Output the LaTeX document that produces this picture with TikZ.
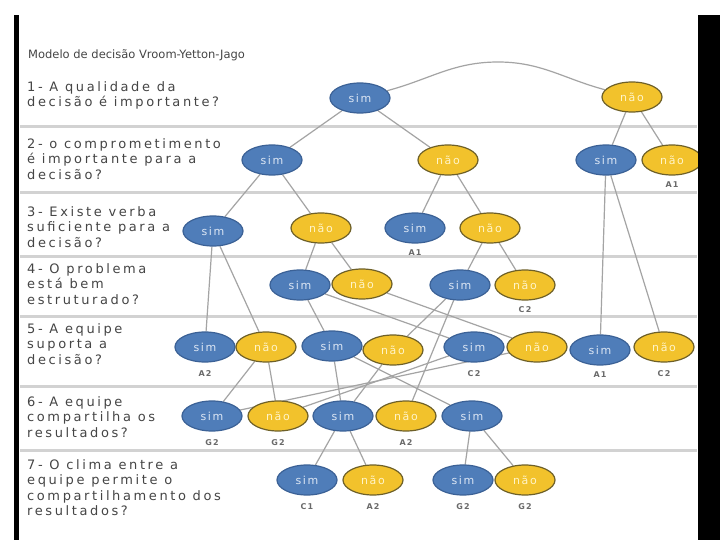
\documentclass[tikz,border=0pt]{standalone}
\usepackage{fontspec}
\usetikzlibrary{shapes.geometric,positioning}
\newfontfamily\qfont[LetterSpace=20]{DejaVu Sans}
\newfontfamily\tfont{DejaVu Sans}
\newfontfamily\nfont[LetterSpace=15]{DejaVu Sans}
\newfontfamily\lfont[LetterSpace=15]{DejaVu Sans Bold}
\definecolor{qtext}{HTML}{454545}
\definecolor{sepc}{HTML}{D2D2D2}
\definecolor{connc}{HTML}{A4A4A4}
\definecolor{bluef}{HTML}{4F7DB9}
\definecolor{blued}{HTML}{3B6196}
\definecolor{yelf}{HTML}{F2C22C}
\definecolor{yeld}{HTML}{6E6028}
\definecolor{simt}{HTML}{DCE6F4}
\definecolor{naot}{HTML}{FFF4C8}
\definecolor{labc}{HTML}{6A6A6A}
\pgfdeclarelayer{bg}
\pgfsetlayers{bg,main}
\tikzset{
  base/.style={ellipse, minimum width=60pt, minimum height=30pt, inner sep=0pt, line width=1.2pt,
    font=\fontsize{11}{12}\nfont},
  simn/.style={base, fill=bluef, draw=blued, text=simt},
  naon/.style={base, fill=yelf, draw=yeld, text=naot},
  conn/.style={draw=connc, line width=1.2pt},
  sep/.style={draw=sepc, line width=3pt},
  qtxt/.style={anchor=north west, align=left, inner sep=0pt, text=qtext,
    font=\fontsize{13}{15.5}\qfont},
  lab/.style={inner sep=0pt, text=labc, font=\fontsize{8}{9}\lfont}
}
\begin{document}
\begin{tikzpicture}[x=1pt,y=-1pt]
\useasboundingbox (0,0) rectangle (720,540);
% title and questions
\node[anchor=west, inner sep=0pt, text=qtext, font=\fontsize{11.5}{13}\tfont] (title) at (28,55) {Modelo de decisão Vroom-Yetton-Jago};
\node[qtxt] (q1) at (27,81) {1- A qualidade da\\decisão é importante?};
\node[qtxt] (q2) at (27,138) {2- o comprometimento\\é importante para a\\decisão?};
\node[qtxt] (q3) at (27,206) {3- Existe verba\\suficiente para a\\decisão?};
\node[qtxt] (q4) at (27,263) {4- O problema\\está bem\\estruturado?};
\node[qtxt] (q5) at (27,323) {5- A equipe\\suporta a\\decisão?};
\node[qtxt] (q6) at (27,396) {6- A equipe\\compartilha os\\resultados?};
\node[qtxt] (q7) at (27,459) {7- O clima entre a\\equipe permite o\\compartilhamento dos\\resultados?};
% nodes
\node[simn] (s1) at (360,98) {sim};
\node[naon] (n1) at (632,97) {não};
\node[simn] (s2a) at (272,160) {sim};
\node[naon] (n2a) at (448,160) {não};
\node[simn] (s2b) at (606,160) {sim};
\node[naon] (n2b) at (672,160) {não};
\node[simn] (s3a) at (213,231) {sim};
\node[naon] (n3a) at (321,228) {não};
\node[simn] (s3b) at (415,228) {sim};
\node[naon] (n3b) at (490,228) {não};
\node[simn] (s4a) at (300,285) {sim};
\node[naon] (n4a) at (362,284) {não};
\node[simn] (s4b) at (460,285) {sim};
\node[naon] (n4b) at (525,285) {não};
\node[simn] (s5a) at (205,347) {sim};
\node[naon] (n5a) at (266,347) {não};
\node[simn] (s5b) at (332,346) {sim};
\node[naon] (n5b) at (393,350) {não};
\node[simn] (s5c) at (474,347) {sim};
\node[naon] (n5c) at (537,347) {não};
\node[simn] (s5d) at (600,350) {sim};
\node[naon] (n5d) at (664,347) {não};
\node[simn] (s6a) at (212,416) {sim};
\node[naon] (n6a) at (278,416) {não};
\node[simn] (s6b) at (343,416) {sim};
\node[naon] (n6b) at (406,416) {não};
\node[simn] (s6c) at (472,416) {sim};
\node[simn] (s7a) at (307,480) {sim};
\node[naon] (n7a) at (373,480) {não};
\node[simn] (s7b) at (463,480) {sim};
\node[naon] (n7b) at (525,480) {não};
% labels
\node[lab, below=6pt of n2b] (l2b) {A1};
\node[lab, below=6pt of s3b] (l3b) {A1};
\node[lab, below=6pt of n4b] (l4b) {C2};
\node[lab, below=8pt of s5a] (l5a) {A2};
\node[lab, below=8pt of s5c] (l5c) {C2};
\node[lab, below=6pt of s5d] (l5d) {A1};
\node[lab, below=8pt of n5d] (l5e) {C2};
\node[lab, below=8pt of s6a] (l6a) {G2};
\node[lab, below=8pt of n6a] (l6b) {G2};
\node[lab, below=8pt of n6b] (l6c) {A2};
\node[lab, below=8pt of s7a] (l7a) {C1};
\node[lab, below=8pt of n7a] (l7b) {A2};
\node[lab, below=8pt of s7b] (l7c) {G2};
\node[lab, below=8pt of n7b] (l7d) {G2};
\coordinate (root) at (498,62);
% background, separators and connectors (behind nodes)
\begin{pgfonlayer}{bg}
\fill[white] (0,0) rectangle (720,540);
\foreach \yy in {127,193,256,316,386,450} \draw[sep] (20,\yy) -- (697,\yy);
\draw[conn] (s1) to[out=15,in=180] (root) to[out=0,in=165] (n1);
\draw[conn] (s1) -- (s2a);
\draw[conn] (s1) -- (n2a);
\draw[conn] (n1) -- (s2b);
\draw[conn] (n1) -- (n2b);
\draw[conn] (s2a) -- (s3a);
\draw[conn] (s2a) -- (n3a);
\draw[conn] (n2a) -- (s3b);
\draw[conn] (n2a) -- (n3b);
\draw[conn] (n3a) -- (s4a);
\draw[conn] (n3a) -- (n4a);
\draw[conn] (n3b) -- (s4b);
\draw[conn] (n3b) -- (n4b);
\draw[conn] (s3a) -- (s5a);
\draw[conn] (s3a) -- (n5a);
\draw[conn] (s2b) -- (s5d);
\draw[conn] (s2b) -- (n5d);
\draw[conn] (s4a) -- (s5b);
\draw[conn] (s4a) -- (s5c);
\draw[conn] (n4a) -- (n5c);
\draw[conn] (s4b) -- (n5b);
\draw[conn] (s4b) -- (n6b);
\draw[conn] (n5a) -- (s6a);
\draw[conn] (n5a) -- (n6a);
\draw[conn] (s5b) -- (s6b);
\draw[conn] (s5b) -- (s6c);
\draw[conn] (n5b) -- (s6b);
\draw[conn] (s5c) -- (n6a);
\draw[conn] (n5c) -- (s6a);
\draw[conn] (s6b) -- (s7a);
\draw[conn] (s6b) -- (n7a);
\draw[conn] (s6c) -- (s7b);
\draw[conn] (s6c) -- (n7b);
\end{pgfonlayer}
% frame bars
\fill[black] (14,15) rectangle (19,540);
\fill[black] (698,15) rectangle (720,540);
\end{tikzpicture}
\end{document}
